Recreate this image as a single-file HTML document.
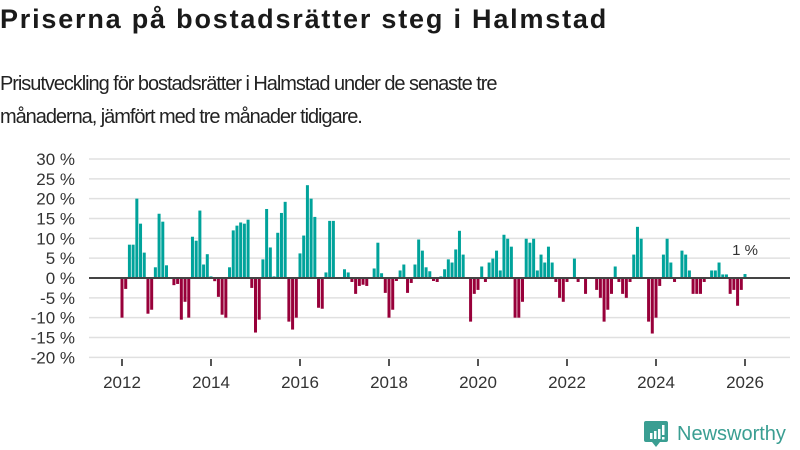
<!DOCTYPE html>
<html><head><meta charset="utf-8">
<style>
html,body{margin:0;padding:0;background:#fff;width:800px;height:450px;overflow:hidden;font-family:"Liberation Sans","DejaVu Sans",sans-serif;color:#222}
#title{position:absolute;left:0;top:4px;font-size:27px;letter-spacing:1.8px;font-weight:bold;color:#1a1a1a;margin:0;white-space:nowrap}
#sub{position:absolute;left:0;top:68px;font-size:20px;letter-spacing:-1.05px;line-height:33px;color:#222;margin:0;width:520px}
svg{position:absolute;left:0;top:0}
</style></head><body>
<h1 id="title">Priserna på bostadsrätter steg i Halmstad</h1>
<p id="sub">Prisutveckling för bostadsrätter i Halmstad under de senaste tre månaderna, jämfört med tre månader tidigare.</p>
<svg id="chart" width="800" height="450"></svg>
<script>
const yTicks=[30,25,20,15,10,5,0,-5,-10,-15,-20];
const xTickYears=[2012,2014,2016,2018,2020,2022,2024,2026];
const startYear=2012;
const values=[
-10,-2.75,8.4,8.4,20,13.7,6.4,-9,-8,2.7,16.2,14.2,3.2,0,-1.8,-1.5,-10.5,-6,-10,10.4,9.4,17,3.4,6,0.4,-0.8,-4.75,-9.25,-10,2.7,12,13.2,14,13.7,14.7,-2.5,-13.75,-10.5,4.7,17.4,7.7,0.4,11.4,
16.4,19.2,-11,-13,-10,6.2,10.7,23.4,20,15.4,-7.5,-7.75,1.4,14.4,14.4,0,0,2.2,1.4,-1,-4,-2,-1.7,-2,0,2.4,8.9,1.2,-3.75,-10,-8,-0.75,1.9,3.4,-3.75,-1.25,3.4,9.7,6.9,2.7,1.7,-0.75,
-1,0.4,2.2,4.7,3.9,7.2,11.9,5.9,0,-11,-4,-3,2.9,-1,3.9,4.9,6.9,1.9,10.9,9.9,7.9,-10,-10,-6,9.9,8.9,9.9,1.9,5.9,3.9,7.9,3.9,-1,-5,-6,-1,0,4.9,-1,0,-4,0,0,
-3,-5,-11,-8,-4,2.9,-1,-4,-5,-1,5.9,12.9,9.9,0,-11,-14,-10,-2,5.9,9.9,3.9,-1,0,6.9,5.9,1.9,-4,-4,-4,-1,0,1.9,1.9,3.9,0.9,0.9,-4,-3,-7,-3,1
];
const lastLabel="1 %";
const NS="http://www.w3.org/2000/svg";
const svg=document.getElementById('chart');
const plotL=89,plotR=790,y0=278,pxPer=119/30;
const xStart=122,xEnd=745,nMonths=168;
function ys(v){return y0-v*pxPer;}
function xs(i){return xStart+i*(xEnd-xStart)/nMonths;}
function mk(tag,attrs){const e=document.createElementNS(NS,tag);for(const k in attrs)e.setAttribute(k,attrs[k]);svg.appendChild(e);return e;}
yTicks.forEach(t=>{
  const g=mk('line',{x1:plotL,x2:plotR,y1:ys(t),y2:ys(t),stroke:'#e0e0e0','stroke-width':1.5});
  
  
  const l=mk('text',{x:75,y:ys(t)+6,'text-anchor':'end','font-size':17,fill:'#333','font-family':'Liberation Sans, sans-serif'});
  l.textContent=t+' %';
  
  
});
values.forEach((v,i)=>{
  const x=xs(i);
  const r=mk('rect',{x:x-1.5,width:3,y:Math.min(ys(v),y0),height:Math.abs(ys(v)-y0),fill:v>=0?'#00a39b':'#98003a'});
  
  
});
const ax=mk('line',{x1:plotL,x2:plotR,y1:y0,y2:y0,stroke:'#444','stroke-width':2});


xTickYears.forEach(yr=>{
  const x=xs((yr-startYear)*12);
  const tk=mk('line',{x1:x,x2:x,y1:359,y2:366,stroke:'#555','stroke-width':2});
  
  
  const t=mk('text',{x:x,y:388,'text-anchor':'middle','font-size':17,fill:'#333','font-family':'Liberation Sans, sans-serif'});
  t.textContent=yr;
  
  
});
const lastI=values.length-1;
const ll=mk('text',{x:xs(lastI),y:ys(values[lastI])-19,'text-anchor':'middle','font-size':15,fill:'#333','font-family':'Liberation Sans, sans-serif'});
ll.textContent=lastLabel;


</script>
<svg width="800" height="450" style="position:absolute;left:0;top:0">
<path d="M646 421 h20 a2 2 0 0 1 2 2 v17 a2 2 0 0 1 -2 2 h-6 l-4 5 l-4 -5 h-6 a2 2 0 0 1 -2 -2 v-17 a2 2 0 0 1 2 -2z" fill="#3a9e92"/>
<rect x="650" y="433" width="2.5" height="6" fill="#fff"/><rect x="654" y="431" width="2.5" height="8" fill="#fff"/><rect x="658" y="429" width="2.5" height="10" fill="#fff"/><rect x="662" y="425" width="2.5" height="10" fill="#fff"/><rect x="662" y="437" width="2.5" height="2.5" fill="#fff"/>
<text x="677" y="440" font-size="20" fill="#3a9e92" font-family="Liberation Sans, sans-serif">Newsworthy</text>
</svg>
</body></html>
